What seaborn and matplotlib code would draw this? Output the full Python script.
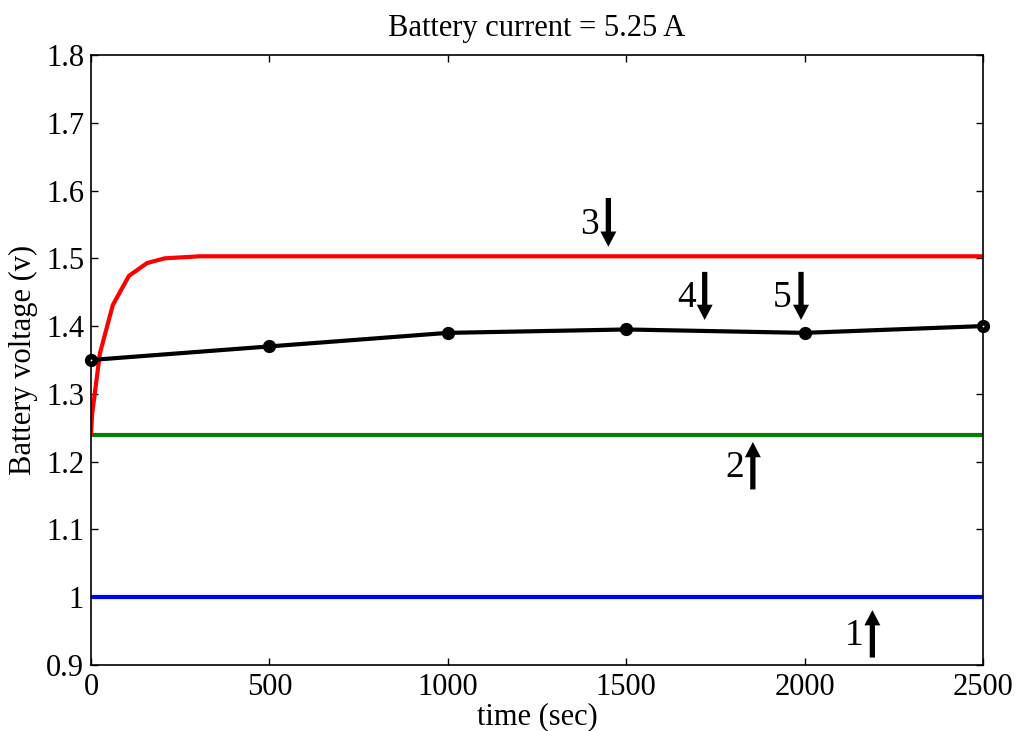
import matplotlib
matplotlib.use("Agg")
import matplotlib.pyplot as plt
import seaborn as sns
import numpy as np
import pandas as pd

# Data
red_t = [0, 3, 25, 61, 106, 157, 207, 305, 2500]
red_v = [1.24, 1.27, 1.36, 1.431, 1.474, 1.493, 1.5, 1.503, 1.503]
black_t = [0, 500, 1000, 1500, 2000, 2500]
black_v = [1.35, 1.37, 1.39, 1.395, 1.39, 1.40]
green_t = [0, 2500]
green_v = [1.24, 1.24]
blue_t = [0, 2500]
blue_v = [1.0, 1.0]

# annotation arrows: label, time, tail value, head value
ann_labels = ["1", "2", "3", "4", "5"]
ann_t = [2190, 1855, 1450, 1720, 1990]
ann_tail = [0.911, 1.159, 1.589, 1.48, 1.48]
ann_head = [0.981, 1.229, 1.517, 1.409, 1.409]

xticks = [0, 500, 1000, 1500, 2000, 2500]
yticks = [0.9, 1.0, 1.1, 1.2, 1.3, 1.4, 1.5, 1.6, 1.7, 1.8]
ytick_labels = ["0.9", "1", "1.1", "1.2", "1.3", "1.4", "1.5", "1.6", "1.7", "1.8"]

sns.set_style("white")
plt.rcParams['font.family'] = ['Liberation Serif', 'DejaVu Serif']
plt.rcParams['text.color'] = 'black'
plt.rcParams['axes.labelcolor'] = 'black'
plt.rcParams['xtick.color'] = 'black'
plt.rcParams['ytick.color'] = 'black'

fig = plt.figure(figsize=(10.16, 7.31), dpi=100)
ax = fig.add_axes([0.0896, 0.0903, 0.8779, 0.8345])

sns.lineplot(x=blue_t, y=blue_v, ax=ax, color=(0, 0, 1), lw=3)
sns.lineplot(x=green_t, y=green_v, ax=ax, color=(0, 0.5, 0), lw=3)
sns.lineplot(x=red_t, y=red_v, ax=ax, color=(1, 0, 0), lw=3)
sns.lineplot(x=black_t, y=black_v, ax=ax, color='black', lw=3)
# markers
ax.plot(black_t[1:-1], black_v[1:-1], 'o', color='black', ms=8.5, zorder=5)
ax.plot([black_t[0], black_t[-1]], [black_v[0], black_v[-1]], 'o', mfc='white',
        mec='black', mew=4, ms=5.5, zorder=5, clip_on=False)

for lab, t, tail, head in zip(ann_labels, ann_t, ann_tail, ann_head):
    ax.annotate('', xy=(t, head), xytext=(t, tail),
                arrowprops=dict(arrowstyle='simple,head_length=1.1,head_width=1.15,tail_width=0.38',
                                mutation_scale=10, lw=0, color='black',
                                shrinkA=0, shrinkB=0),
                zorder=6)
    ax.text(t - 52, (tail + head) / 2 - 0.003, lab, fontsize=27, ha='center', va='center')

ax.set_xlim(0, 2500)
ax.set_ylim(0.9, 1.8)
ax.set_xticks(xticks)
ax.set_xticklabels([str(v) for v in xticks])
ax.set_yticks(yticks)
ax.set_yticklabels(ytick_labels)
ax.tick_params(direction='in', length=5, width=1, labelsize=22, top=True, right=True,
               bottom=True, left=True)
ax.tick_params(axis='y', pad=5)
ax.tick_params(axis='x', pad=6)
for s in ax.spines.values():
    s.set_linewidth(1.2)
    s.set_color('black')
ax.set_xlabel('time (sec)', fontsize=22, labelpad=0)
ax.set_ylabel('Battery voltage (v)', fontsize=22, labelpad=6)
ax.set_title('Battery current = 5.25 A', fontsize=22, pad=14)

fig.savefig('out.png', dpi=100)
